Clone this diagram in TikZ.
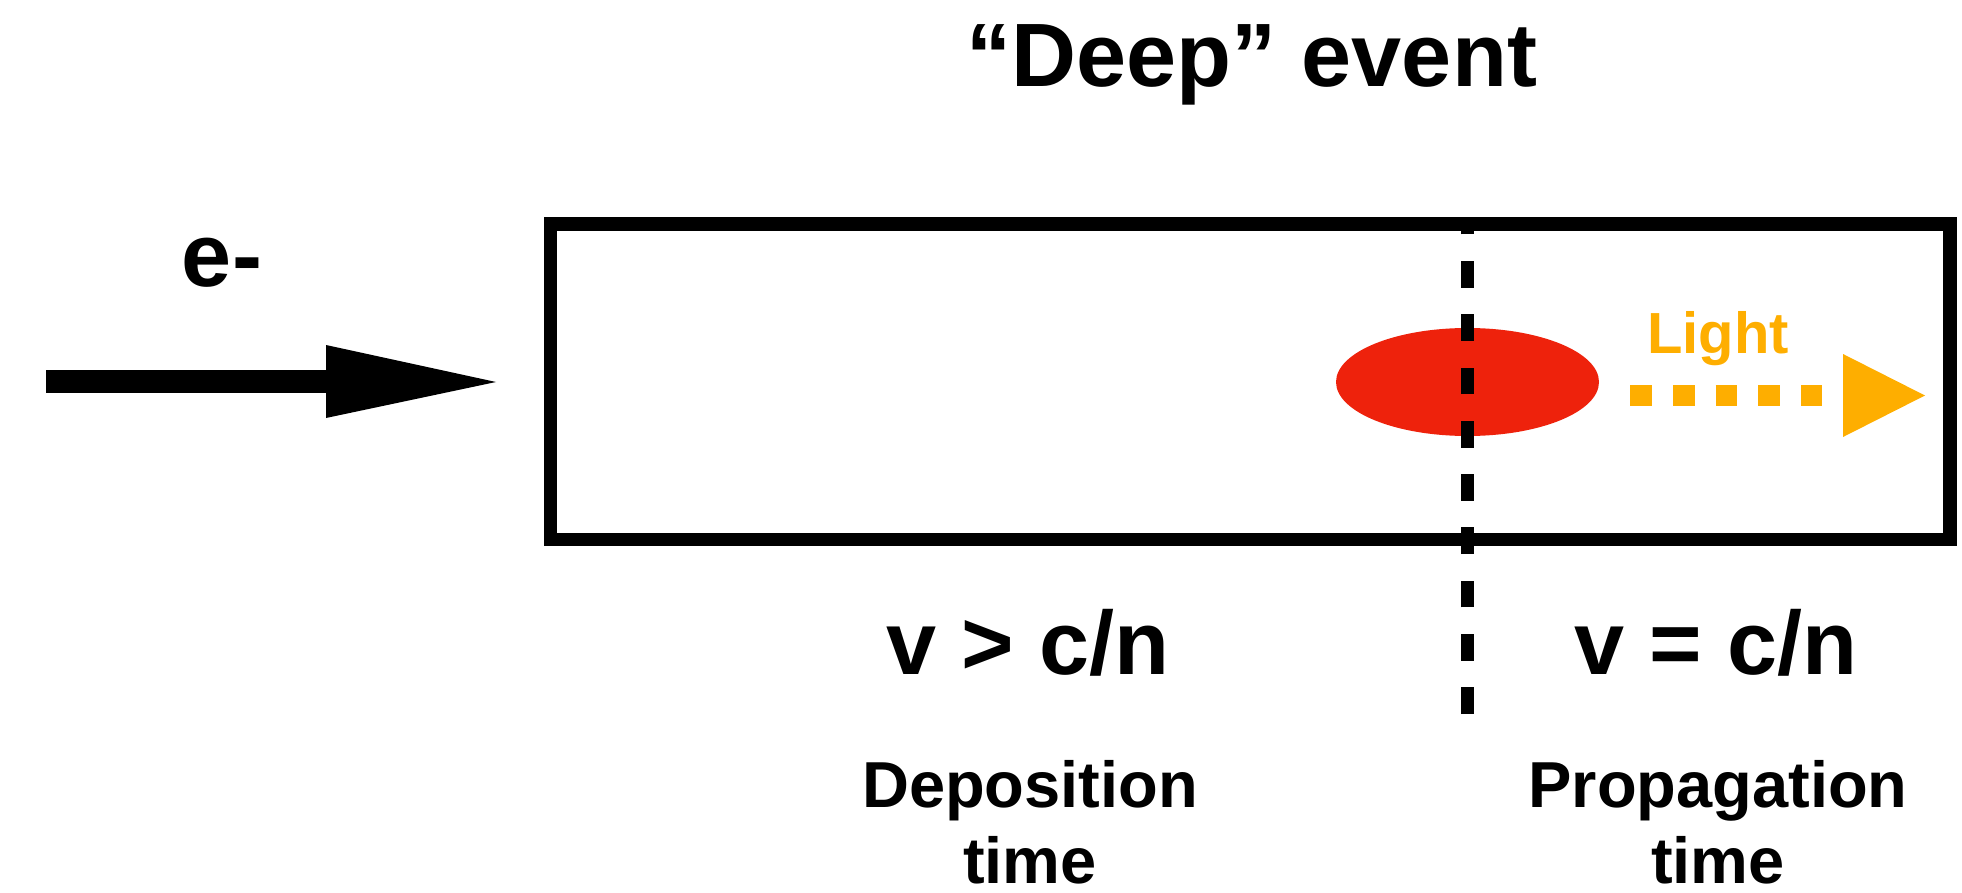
\documentclass[tikz,border=0pt]{standalone}
\usepackage{fontspec}
\setmainfont{Liberation Sans}
\usetikzlibrary{shapes.geometric}
\definecolor{evred}{RGB}{238,34,12}
\definecolor{litorange}{RGB}{254,174,0}
\begin{document}
\begin{tikzpicture}[x=1pt,y=-1pt,
  big/.style={font=\fontsize{90}{108}\selectfont\bfseries, inner sep=0pt, anchor=base},
  small/.style={font=\fontsize{65}{76}\selectfont\bfseries, inner sep=0pt, anchor=base, align=center},
  tube/.style={draw=black, line width=13.5pt, inner sep=0pt, minimum width=1399.5pt, minimum height=315.5pt},
  blob/.style={ellipse, fill=evred, inner sep=0pt, minimum width=263pt, minimum height=108pt},
  divider/.style={line width=13pt, dash pattern=on 26.7pt off 26.6pt},
  lightray/.style={litorange, line width=21.5pt, dash pattern=on 21.7pt off 21.1pt},
  beam/.style={line width=23pt}
]
\useasboundingbox (0,0) rectangle (1962,893);

% title
\node[big] (title) at (1252,87) {“Deep” event};

% detector tube
\node[tube] (detector) at (1250.25,381.75) {};

% energy deposit
\node[blob] (deposit) at (1467.5,382) {};

% dashed divider
\coordinate (dbot) at (1467.5,714);
\coordinate (dtop) at (1467.5,229);
\draw[divider] (dbot) -- (dtop);

% incoming electron arrow
\coordinate (estart) at (46,381.5);
\coordinate (ebase) at (326,381.5);
\coordinate (etip) at (496,382);
\coordinate (eup) at (326,345);
\coordinate (edown) at (326,418);
\draw[beam] (estart) -- (ebase);
\fill (eup) -- (etip) -- (edown) -- cycle;
\node[big] (eminus) at (222,287) {e-};

% light arrow
\coordinate (lstart) at (1630,395.5);
\coordinate (lend) at (1822,395.5);
\coordinate (lup) at (1843,354);
\coordinate (ltip) at (1925,395.5);
\coordinate (ldown) at (1843,437);
\draw[lightray] (lstart) -- (lend);
\fill[litorange] (lup) -- (ltip) -- (ldown) -- cycle;
\node[big, font=\fontsize{58}{70}\selectfont\bfseries, text=litorange] (light) at (1718,353) {Light};

% lower labels
\node[big] (vgt) at (1028,674) {v > c/n};
\node[big] (veq) at (1716,674) {v = c/n};
\node[small] (dep) at (1030,883) {Deposition\\time};
\node[small] (prop) at (1718,883) {Propagation\\time};
\end{tikzpicture}
\end{document}
